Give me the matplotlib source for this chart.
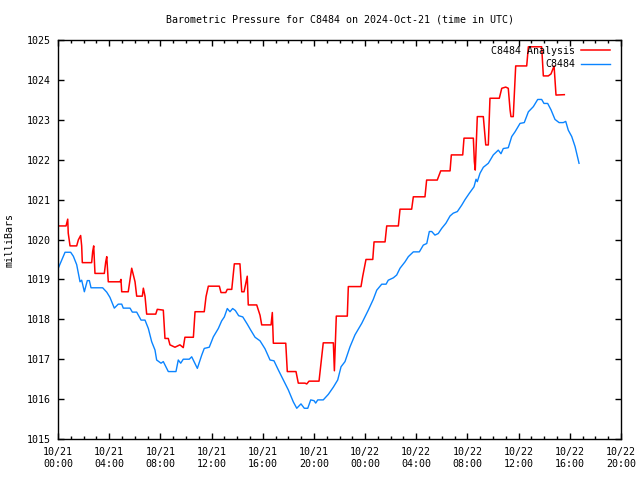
import numpy as np
from matplotlib import pyplot as plt
from matplotlib.ticker import MultipleLocator

# hours since 2024-10-21 00:00 UTC
obs_hours = [0.02, 0.55, 0.99, 1.20, 1.46, 1.72, 1.85, 2.06, 2.29, 2.45, 2.58, 3.49, 3.81, 4.06,
             4.40, 4.71, 4.98, 5.10, 5.63, 5.81, 6.15, 6.49, 6.80, 7.06, 7.32, 7.58, 7.71, 8.05,
             8.23, 8.62, 9.22, 9.40, 9.59, 9.79, 10.26, 10.45, 10.89, 11.23, 11.43, 11.82, 12.14,
             12.53, 12.79, 13.00, 13.23, 13.44, 13.65, 13.86, 14.12, 14.44, 14.79, 15.06, 15.40,
             15.79, 16.18, 16.57, 16.88, 17.22, 17.61, 18.00, 18.39, 18.66, 18.99, 19.25, 19.52,
             19.75, 20.01, 20.14, 20.30, 20.73, 21.13, 21.52, 21.86, 22.12, 22.43, 22.82, 23.21,
             23.74, 24.25, 24.64, 24.91, 25.30, 25.64, 25.81, 26.21, 26.47, 26.73, 27.12, 27.38,
             27.77, 28.24, 28.55, 28.82, 29.02, 29.21, 29.46, 29.72, 29.99, 30.32, 30.64, 30.89,
             31.21, 31.55, 31.81, 32.15, 32.51, 32.67, 32.77, 32.98, 33.24, 33.63, 34.02, 34.41,
             34.62, 34.80, 35.19, 35.46, 35.72, 36.11, 36.44, 36.76, 37.15, 37.49, 37.80, 37.98,
             38.27, 38.53, 38.84, 39.16, 39.49, 39.68, 39.88, 40.15, 40.41, 40.72]
obs_mb = [1019.28, 1019.68, 1019.68, 1019.58, 1019.37, 1018.94, 1018.98, 1018.69, 1018.97, 1018.97,
          1018.79, 1018.79, 1018.68, 1018.55, 1018.28, 1018.38, 1018.38, 1018.28, 1018.28, 1018.18,
          1018.18, 1017.98, 1017.98, 1017.77, 1017.44, 1017.23, 1016.98, 1016.90, 1016.94, 1016.69,
          1016.69, 1016.98, 1016.90, 1017.00, 1017.00, 1017.06, 1016.77, 1017.10, 1017.27, 1017.30,
          1017.56, 1017.77, 1017.96, 1018.06, 1018.27, 1018.19, 1018.27, 1018.22, 1018.09, 1018.06,
          1017.88, 1017.73, 1017.55, 1017.46, 1017.26, 1016.98, 1016.96, 1016.73, 1016.48, 1016.23,
          1015.93, 1015.77, 1015.88, 1015.77, 1015.77, 1015.98, 1015.96, 1015.90, 1015.98, 1015.98,
          1016.12, 1016.30, 1016.48, 1016.81, 1016.94, 1017.31, 1017.61, 1017.90, 1018.23, 1018.50,
          1018.73, 1018.88, 1018.88, 1018.98, 1019.04, 1019.11, 1019.28, 1019.44, 1019.57, 1019.69,
          1019.69, 1019.86, 1019.90, 1020.20, 1020.20, 1020.11, 1020.15, 1020.28, 1020.41, 1020.59,
          1020.66, 1020.70, 1020.86, 1021.00, 1021.16, 1021.32, 1021.51, 1021.45, 1021.66, 1021.81,
          1021.91, 1022.12, 1022.24, 1022.15, 1022.28, 1022.30, 1022.58, 1022.70, 1022.91, 1022.93,
          1023.20, 1023.33, 1023.51, 1023.51, 1023.41, 1023.41, 1023.25, 1023.01, 1022.93, 1022.93,
          1022.96, 1022.74, 1022.58, 1022.33, 1021.91]

ana_hours = [0.02, 0.63, 0.76, 0.80, 0.94, 1.46, 1.59, 1.77, 1.85, 1.90, 2.63, 2.71, 2.79, 2.89,
             3.62, 3.73, 3.81, 3.93, 4.85, 4.92, 4.98, 5.49, 5.76, 6.02, 6.15, 6.59, 6.67, 6.80,
             6.93, 7.64, 7.76, 8.23, 8.36, 8.62, 8.75, 9.14, 9.53, 9.79, 9.92, 10.58, 10.71, 11.43,
             11.57, 11.75, 12.61, 12.74, 13.11, 13.23, 13.58, 13.78, 14.22, 14.36, 14.54, 14.79,
             14.87, 15.53, 15.79, 15.92, 16.65, 16.75, 16.83, 17.80, 17.92, 18.60, 18.78, 19.30,
             19.44, 19.62, 20.40, 20.73, 21.52, 21.60, 21.75, 22.61, 22.69, 23.68, 23.81, 24.07,
             24.60, 24.70, 25.56, 25.69, 26.60, 26.73, 27.64, 27.77, 28.68, 28.81, 29.64, 29.91,
             30.64, 30.74, 31.63, 31.73, 32.46, 32.54, 32.61, 32.77, 33.24, 33.43, 33.63, 33.76,
             34.49, 34.68, 34.99, 35.19, 35.33, 35.40, 35.58, 35.77, 36.63, 36.76, 37.80, 37.93,
             38.32, 38.53, 38.77, 38.92, 39.57]
ana_mb = [1020.34, 1020.34, 1020.51, 1020.16, 1019.84, 1019.84, 1019.99, 1020.10, 1019.84, 1019.42,
          1019.42, 1019.70, 1019.84, 1019.15, 1019.15, 1019.44, 1019.57, 1018.94, 1018.94, 1019.00,
          1018.69, 1018.69, 1019.28, 1018.94, 1018.58, 1018.58, 1018.78, 1018.58, 1018.13, 1018.13,
          1018.25, 1018.23, 1017.52, 1017.52, 1017.36, 1017.30, 1017.36, 1017.29, 1017.55, 1017.55,
          1018.19, 1018.19, 1018.57, 1018.83, 1018.83, 1018.67, 1018.67, 1018.75, 1018.75, 1019.39,
          1019.39, 1018.69, 1018.69, 1019.08, 1018.36, 1018.36, 1018.10, 1017.86, 1017.86, 1018.17,
          1017.40, 1017.40, 1016.69, 1016.69, 1016.40, 1016.40, 1016.38, 1016.45, 1016.45, 1017.41,
          1017.41, 1016.71, 1018.08, 1018.08, 1018.82, 1018.82, 1019.07, 1019.50, 1019.50, 1019.94,
          1019.94, 1020.34, 1020.34, 1020.76, 1020.76, 1021.07, 1021.07, 1021.49, 1021.49, 1021.72,
          1021.72, 1022.12, 1022.12, 1022.54, 1022.54, 1021.95, 1021.74, 1023.08, 1023.08, 1022.37,
          1022.37, 1023.54, 1023.54, 1023.79, 1023.82, 1023.79, 1023.25, 1023.08, 1023.08, 1024.35,
          1024.35, 1024.83, 1024.83, 1024.10, 1024.10, 1024.15, 1024.35, 1023.62, 1023.63]

tick_hours = [0, 4, 8, 12, 16, 20, 24, 28, 32, 36, 40, 44]
tick_labels = ["10/21\n00:00", "10/21\n04:00", "10/21\n08:00", "10/21\n12:00", "10/21\n16:00",
               "10/21\n20:00", "10/22\n00:00", "10/22\n04:00", "10/22\n08:00", "10/22\n12:00",
               "10/22\n16:00", "10/22\n20:00"]

plt.rcParams['font.family'] = 'DejaVu Sans Mono'
fs = 7.2

fig = plt.figure(figsize=(6.4, 4.8), dpi=100)
ax = fig.add_axes([58 / 640, 41 / 480, 563 / 640, 399 / 480])

ax.plot(ana_hours, ana_mb, color='#ff0000', lw=1.1, label='C8484 Analysis')
ax.plot(obs_hours, obs_mb, color='#0a84ff', lw=1.0, label='C8484')

ax.set_xlim(0, 44)
ax.set_ylim(1015, 1025)
ax.set_xticks(tick_hours)
ax.set_xticklabels(tick_labels)
ax.xaxis.set_minor_locator(MultipleLocator(1))
ax.yaxis.set_major_locator(MultipleLocator(1))

ax.tick_params(which='both', direction='in', top=True, right=True, labelsize=fs, width=1)
ax.tick_params(which='major', length=4)
ax.tick_params(which='minor', length=2)
ax.tick_params(axis='x', pad=6)
ax.tick_params(axis='y', pad=5)
for s in ax.spines.values():
    s.set_linewidth(1)

fig.text(339.5 / 640, 1 - 19 / 480, "Barometric Pressure for C8484 on 2024-Oct-21 (time in UTC)",
         ha='center', va='center', fontsize=fs)
fig.text(10 / 640, 0.5, "milliBars", rotation=90, ha='center', va='center', fontsize=fs)

ax.legend(loc='upper right', bbox_to_anchor=(0.9805, 0.985), markerfirst=False, frameon=False,
          fontsize=fs, handlelength=2.9, handletextpad=0.6, labelspacing=0.35,
          borderaxespad=0, borderpad=0)

fig.savefig('out.png', dpi=100)
